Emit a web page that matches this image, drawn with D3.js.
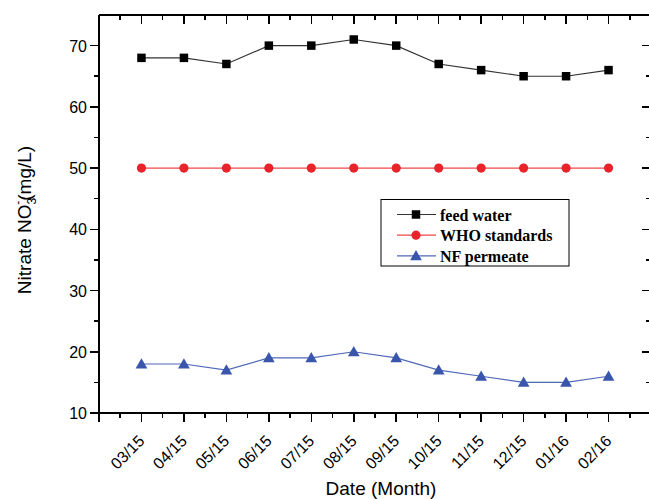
<!DOCTYPE html>
<html lang="en">
<head>
  <meta charset="UTF-8">
  <script src="https://d3js.org/d3.v7.min.js"></script>
  <title>Nitrate NO3 by month</title>
  <style>
    body { margin: 0; background: #fff; }
    .tick-label { font-family: 'Liberation Sans', Arial, sans-serif; font-size: 16px; fill: #000; }
    .axis-title { font-family: 'Liberation Sans', Arial, sans-serif; font-size: 19px; fill: #000; }
    .legend-text { font-family: 'Liberation Serif', 'Times New Roman', serif; font-weight: bold; font-size: 16px; fill: #000; }
  </style>
</head>
<body>
<div id="chart"></div>
<script>
  // data
  let months = ['03/15','04/15','05/15','06/15','07/15','08/15','09/15','10/15','11/15','12/15','01/16','02/16'];
  let feedWater = [68, 68, 67, 70, 70, 71, 70, 67, 66, 65, 65, 66];
  let whoStandard = [50, 50, 50, 50, 50, 50, 50, 50, 50, 50, 50, 50];
  let nfPermeate = [18, 18, 17, 19, 19, 20, 19, 17, 16, 15, 15, 16];
  let yTicks = [10, 20, 30, 40, 50, 60, 70];
  let seriesNames = ['feed water', 'WHO standards', 'NF permeate'];

  let width = 649, height = 499;
  let pLeft = 99, pRight = 651, pTop = 15, pBottom = 413;

  let svg = d3.select("#chart").append("svg")
      .attr("width", width).attr("height", height);

  // x: month index, 0 and 13 are the empty ends of the frame
  let x = d3.scaleLinear().domain([0, 13]).range([pLeft, pRight]);
  let y = d3.scaleLinear().domain([10, 75]).range([pBottom, pTop]);

  let majorX = d3.range(0, 14);
  let minorX = d3.range(0.5, 13, 1);
  let minorY = [15, 25, 35, 45, 55, 65];

  let frame = svg.append("g").attr("stroke", "#000").attr("shape-rendering", "crispEdges");

  // frame lines
  frame.append("line").attr("x1", pLeft).attr("x2", pRight).attr("y1", pBottom).attr("y2", pBottom).attr("stroke-width", 2);
  frame.append("line").attr("x1", pLeft).attr("x2", pRight).attr("y1", pTop).attr("y2", pTop).attr("stroke-width", 2);
  frame.append("line").attr("x1", pLeft).attr("x2", pLeft).attr("y1", pTop).attr("y2", pBottom).attr("stroke-width", 2);
  frame.append("line").attr("x1", pRight).attr("x2", pRight).attr("y1", pTop).attr("y2", pBottom).attr("stroke-width", 2);

  // bottom ticks outward, top ticks inward
  majorX.forEach(v => {
    frame.append("line").attr("x1", x(v)).attr("x2", x(v)).attr("y1", pBottom).attr("y2", pBottom + 9).attr("stroke-width", 1.5);
    frame.append("line").attr("x1", x(v)).attr("x2", x(v)).attr("y1", pTop).attr("y2", pTop + 9).attr("stroke-width", 1.5);
  });
  minorX.forEach(v => {
    frame.append("line").attr("x1", x(v)).attr("x2", x(v)).attr("y1", pBottom).attr("y2", pBottom + 5).attr("stroke-width", 1.5);
    frame.append("line").attr("x1", x(v)).attr("x2", x(v)).attr("y1", pTop).attr("y2", pTop + 5).attr("stroke-width", 1.5);
  });

  // left ticks outward, right ticks inward
  yTicks.forEach(v => {
    frame.append("line").attr("x1", pLeft - 9).attr("x2", pLeft).attr("y1", y(v)).attr("y2", y(v)).attr("stroke-width", 1.5);
    frame.append("line").attr("x1", pRight - 9).attr("x2", pRight).attr("y1", y(v)).attr("y2", y(v)).attr("stroke-width", 1.5);
  });
  minorY.forEach(v => {
    frame.append("line").attr("x1", pLeft - 5).attr("x2", pLeft).attr("y1", y(v)).attr("y2", y(v)).attr("stroke-width", 1.5);
    frame.append("line").attr("x1", pRight - 5).attr("x2", pRight).attr("y1", y(v)).attr("y2", y(v)).attr("stroke-width", 1.5);
  });

  // tick labels
  svg.append("g").selectAll("text").data(yTicks).join("text")
      .attr("class", "tick-label")
      .attr("x", pLeft - 12).attr("y", d => y(d) + 6)
      .attr("text-anchor", "end")
      .text(d => d);

  svg.append("g").selectAll("text").data(months).join("text")
      .attr("class", "tick-label")
      .attr("text-anchor", "end")
      .attr("transform", (d, i) => "translate(" + (x(i + 1) + 4) + "," + (pBottom + 29) + ") rotate(-45)")
      .text(d => d);

  // axis titles
  svg.append("text").attr("class", "axis-title")
      .attr("x", 381).attr("y", 495).attr("text-anchor", "middle")
      .text("Date (Month)");

  let yt = svg.append("text").attr("class", "axis-title")
      .attr("transform", "translate(31,220) rotate(-90)")
      .attr("text-anchor", "middle");
  yt.append("tspan").text("Nitrate NO");
  yt.append("tspan").attr("dy", 5).attr("font-size", "12px").text("3");
  yt.append("tspan").attr("dy", -14).attr("dx", -7).attr("font-size", "12px").text("-");
  yt.append("tspan").attr("dy", 9).text("(mg/L)");

  // series
  let series = [
    {name: seriesNames[0], values: feedWater, line: "#333", fill: "#000", shape: d3.symbolSquare, size: 72},
    {name: seriesNames[1], values: whoStandard, line: "#f04848", fill: "#e8232a", shape: d3.symbolCircle, size: 66},
    {name: seriesNames[2], values: nfPermeate, line: "#5068b8", fill: "#3a56ac", shape: d3.symbolTriangle, size: 60}
  ];

  let line = d3.line().x((d, i) => x(i + 1)).y(d => y(d));

  series.forEach(s => {
    svg.append("path")
        .attr("d", line(s.values))
        .attr("fill", "none")
        .attr("stroke", s.line)
        .attr("stroke-width", 1.2);
    svg.append("g").selectAll("path").data(s.values).join("path")
        .attr("d", d3.symbol().type(s.shape).size(s.size))
        .attr("transform", (d, i) => "translate(" + x(i + 1) + "," + (y(d) + (s.shape === d3.symbolTriangle ? 1 : 0)) + ")")
        .attr("fill", s.fill);
  });

  // legend
  let legend = svg.append("g");
  legend.append("rect")
      .attr("x", 381).attr("y", 199.5).attr("width", 188).attr("height", 66.5)
      .attr("fill", "#fff").attr("stroke", "#000").attr("stroke-width", 1);

  series.forEach((s, i) => {
    let cy = 214.5 + i * 20.7;
    legend.append("line")
        .attr("x1", 397).attr("x2", 436).attr("y1", cy).attr("y2", cy)
        .attr("stroke", s.line).attr("stroke-width", 1.2);
    legend.append("path")
        .attr("d", d3.symbol().type(s.shape).size(s.size))
        .attr("transform", "translate(416," + (cy + (s.shape === d3.symbolTriangle ? 1 : 0)) + ")")
        .attr("fill", s.fill);
    legend.append("text").attr("class", "legend-text")
        .attr("x", 440).attr("y", cy + 6)
        .text(s.name);
  });
</script>
</body>
</html>
